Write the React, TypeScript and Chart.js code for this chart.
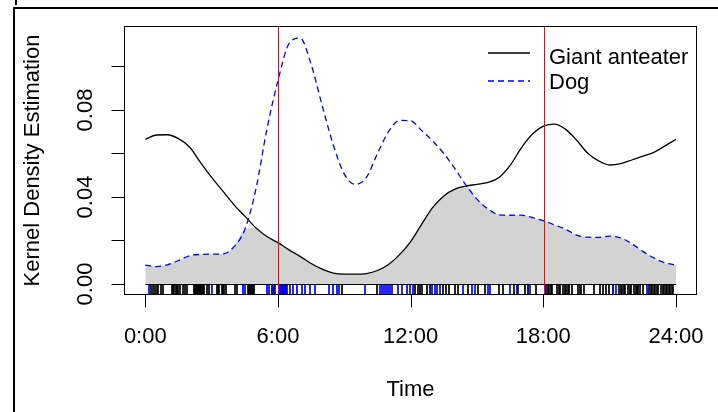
import React, { useEffect, useRef } from "react";
import { Chart, registerables } from "chart.js";

Chart.register(...registerables);

// ---- data ----
const hours = [
  0, 0.5, 1, 1.5, 2, 2.5, 3, 3.5, 4, 4.5, 5, 5.5, 6, 6.5, 7, 7.5, 8, 8.5, 9, 9.5,
  10, 10.5, 11, 11.5, 12, 12.5, 13, 13.5, 14, 14.5, 15, 15.5, 16, 16.5, 17, 17.5,
  18, 18.5, 19, 19.5, 20, 20.5, 21, 21.5, 22, 22.5, 23, 23.5, 24,
];

const anteater = [
  0.0665, 0.0685, 0.0686, 0.0668, 0.063, 0.0558, 0.049, 0.0428, 0.0365, 0.0312,
  0.0258, 0.0218, 0.019, 0.0157, 0.0127, 0.0094, 0.0068, 0.005, 0.0045, 0.0045,
  0.0048, 0.0062, 0.009, 0.0135, 0.0195, 0.0275, 0.0352, 0.0405, 0.0436, 0.045,
  0.0458, 0.0467, 0.049, 0.0545, 0.0625, 0.0688, 0.0726, 0.0735, 0.0712, 0.0662,
  0.0602, 0.0566, 0.0547, 0.0553, 0.057, 0.0588, 0.0605, 0.0635, 0.0665,
];

const dog = [
  0.0087, 0.008, 0.0088, 0.0108, 0.013, 0.0136, 0.0137, 0.0138, 0.017, 0.025,
  0.0435, 0.0712, 0.0935, 0.1105, 0.113, 0.101, 0.082, 0.064, 0.0505, 0.0458,
  0.049, 0.06, 0.07, 0.0752, 0.075, 0.0705, 0.0657, 0.06, 0.053, 0.0455,
  0.039, 0.0345, 0.0318, 0.0316, 0.0317, 0.0305, 0.0291, 0.0272, 0.0252, 0.0225,
  0.0215, 0.0214, 0.022, 0.0212, 0.0185, 0.015, 0.012, 0.0097, 0.0087,
];

const anteaterRug = [
  0.26, 0.35, 0.44, 0.51, 0.58, 0.72, 0.8, 1.21, 1.25, 1.3, 1.39, 1.43, 1.48,
  1.57, 1.71, 1.8, 1.89, 2.2, 2.24, 2.29, 2.33, 2.38, 2.42, 2.47, 2.51, 2.56,
  2.6, 2.65, 2.79, 2.88, 3.24, 3.28, 3.33, 3.47, 3.51, 3.56, 3.65, 4.06, 4.15,
  4.64, 4.69, 4.73, 4.78, 4.82, 4.87, 4.91, 5.73, 5.82, 8.9, 10.48, 12.2, 12.34,
  12.43, 12.52, 12.74, 12.88, 13.46, 13.6, 13.74, 14.01, 14.15, 14.6, 15.05,
  15.36, 16.0, 16.18, 16.67, 16.81, 17.17, 17.31, 17.67, 18.12, 18.19, 18.26,
  18.33, 18.4, 18.62, 18.69, 18.76, 18.89, 18.96, 19.03, 19.1, 19.17, 19.3,
  19.57, 19.64, 19.71, 19.84, 20.3, 20.57, 20.7, 20.84, 20.98, 21.16, 21.43,
  21.5, 21.56, 21.63, 21.7, 21.83, 21.9, 21.97, 22.1, 22.17, 22.24, 22.3, 22.37,
  22.51, 22.78, 22.85, 22.92, 22.99, 23.05, 23.12, 23.19, 23.33, 23.4, 23.46,
  23.53, 23.6, 23.67, 23.73, 23.8, 23.87,
];

const dogRug = [
  0.17, 3.02, 4.42, 4.51, 5.5, 5.59, 5.73, 5.86, 6.05, 6.09, 6.14, 6.18, 6.23,
  6.27, 6.32, 6.36, 6.41, 6.55, 6.68, 6.86, 7.09, 7.22, 7.45, 7.67, 8.31, 8.49,
  8.67, 8.76, 9.94, 10.62, 10.71, 10.8, 10.89, 10.98, 11.07, 11.16, 11.43, 11.61,
  11.84, 11.97, 12.11, 12.97, 13.11, 13.19, 13.33, 14.37, 14.78, 14.91, 15.5,
  15.59, 16.49, 16.86, 17.4, 18.08, 21.15, 21.29, 22.69,
];

const seriesNames = ["Giant anteater", "Dog"];
const xTicks = [0, 6, 12, 18, 24];
const xTickLabels = ["0:00", "6:00", "12:00", "18:00", "24:00"];
const yTicks = [0, 0.02, 0.04, 0.06, 0.08, 0.1];
const yTickLabels = ["0.00", "", "0.04", "", "0.08", ""];
const refLines = [6, 18];
const xTitle = "Time";
const yTitle = "Kernel Density Estimation";

// overlap of the two densities (shaded area)
const overlap = hours.map((_, i) => Math.min(anteater[i], dog[i]));

const FONT = "22px 'Liberation Sans', Arial, sans-serif";

const rPlugin = {
  id: "rstyle",
  afterDatasetsDraw(chart: any) {
    const { ctx, scales } = chart;
    const x = scales.x;
    const y = scales.y;
    const y0 = y.getPixelForValue(0);
    const bottom = Math.round(chart.chartArea.bottom);
    ctx.save();
    ctx.lineWidth = 1.7;
    const rug = (vals: number[], color: string) => {
      ctx.strokeStyle = color;
      ctx.beginPath();
      for (const v of vals) {
        const px = Math.round(x.getPixelForValue(v));
        ctx.moveTo(px, bottom);
        ctx.lineTo(px, y0);
      }
      ctx.stroke();
    };
    rug(anteaterRug, "#000000");
    rug(dogRug, "#0000ff");
    // top edge of the rug band
    ctx.lineWidth = 1;
    ctx.strokeStyle = "#000000";
    ctx.beginPath();
    const py0 = Math.round(y0) + 0.5;
    ctx.moveTo(x.getPixelForValue(hours[0]), py0);
    ctx.lineTo(x.getPixelForValue(hours[hours.length - 1]), py0);
    ctx.stroke();
    ctx.restore();
  },
  afterDraw(chart: any) {
    const { ctx, chartArea: a, scales } = chart;
    const x = scales.x;
    const y = scales.y;
    ctx.save();
    // outer frame
    ctx.fillStyle = "#000";
    ctx.fillRect(13, 7, chart.width - 13, 2);
    ctx.fillRect(13, 7, 2, chart.height - 7);
    ctx.fillRect(15, 0, 2, 5);

    // reference lines
    ctx.fillStyle = "rgb(255,0,0)";
    for (const v of refLines) {
      const px = Math.round(x.getPixelForValue(v) + 0.4);
      ctx.fillRect(px, a.top, 1, a.bottom - a.top);
    }

    // plot box
    ctx.strokeStyle = "#000";
    ctx.lineWidth = 1;
    const L = Math.round(a.left) + 0.5;
    const R = Math.round(a.right) - 0.5;
    const T = Math.round(a.top) + 0.5;
    const B = Math.round(a.bottom) - 0.5;
    ctx.strokeRect(L, T, R - L, B - T);

    // ticks
    ctx.beginPath();
    xTicks.forEach((v) => {
      const px = Math.round(x.getPixelForValue(v)) + 0.5;
      ctx.moveTo(px, B);
      ctx.lineTo(px, B + 13);
    });
    yTicks.forEach((v) => {
      const py = Math.round(y.getPixelForValue(v)) + 0.5;
      ctx.moveTo(L, py);
      ctx.lineTo(L - 13, py);
    });
    ctx.stroke();

    ctx.fillStyle = "#000";
    ctx.font = FONT;
    ctx.textBaseline = "alphabetic";
    ctx.textAlign = "center";
    xTicks.forEach((v, i) => {
      ctx.fillText(xTickLabels[i], x.getPixelForValue(v), a.bottom + 48);
    });
    ctx.fillText(xTitle, (a.left + a.right) / 2, a.bottom + 101);

    yTicks.forEach((v, i) => {
      if (!yTickLabels[i]) return;
      ctx.save();
      ctx.translate(a.left - 32, y.getPixelForValue(v));
      ctx.rotate(-Math.PI / 2);
      ctx.fillText(yTickLabels[i], 0, 0);
      ctx.restore();
    });
    ctx.save();
    ctx.translate(a.left - 85, (a.top + a.bottom) / 2);
    ctx.rotate(-Math.PI / 2);
    ctx.fillText(yTitle, 0, 0);
    ctx.restore();

    // legend
    const lx0 = a.left + 364;
    const lx1 = a.left + 406;
    const tx = a.left + 425;
    const rows = [a.top + 27, a.top + 55];
    ctx.lineWidth = 1.3;
    ctx.strokeStyle = "#000";
    ctx.setLineDash([]);
    ctx.beginPath();
    ctx.moveTo(lx0, rows[0]);
    ctx.lineTo(lx1, rows[0]);
    ctx.stroke();
    ctx.strokeStyle = "#0000ff";
    ctx.setLineDash([6, 4]);
    ctx.beginPath();
    ctx.moveTo(lx0, rows[1]);
    ctx.lineTo(lx1, rows[1]);
    ctx.stroke();
    ctx.setLineDash([]);
    ctx.textAlign = "left";
    ctx.fillText(seriesNames[0], tx, rows[0] + 10.5);
    ctx.fillText(seriesNames[1], tx, rows[1] + 8);
    ctx.restore();
  },
};

export default function App() {
  const ref = useRef<HTMLCanvasElement | null>(null);
  useEffect(() => {
    if (!ref.current) return;
    const chart = new Chart(ref.current, {
      type: "line",
      data: {
        datasets: [
          {
            label: seriesNames[0],
            data: hours.map((h, i) => ({ x: h, y: anteater[i] })),
            borderColor: "#000000",
            borderWidth: 1.3,
            pointRadius: 0,
            fill: false,
            cubicInterpolationMode: "monotone",
          },
          {
            label: seriesNames[1],
            data: hours.map((h, i) => ({ x: h, y: dog[i] })),
            borderColor: "#0000ff",
            borderWidth: 1.3,
            borderDash: [6, 4],
            pointRadius: 0,
            fill: false,
            cubicInterpolationMode: "monotone",
          },
          {
            label: "overlap",
            data: hours.map((h, i) => ({ x: h, y: overlap[i] })),
            borderWidth: 0,
            borderColor: "rgba(0,0,0,0)",
            backgroundColor: "#d3d3d3",
            pointRadius: 0,
            fill: "origin",
            cubicInterpolationMode: "monotone",
          },
        ],
      },
      options: {
        animation: false,
        responsive: false,
        events: [],
        layout: { padding: { left: 124, top: 26, right: 21, bottom: 117 } },
        plugins: { legend: { display: false }, tooltip: { enabled: false } },
        scales: {
          x: { type: "linear", display: false, min: -0.963, max: 24.95 },
          y: { type: "linear", display: false, min: -0.00506, max: 0.1186 },
        },
      },
      plugins: [rPlugin],
    });
    return () => chart.destroy();
  }, []);
  return (
    <div style={{ position: "absolute", left: 0, top: 0, width: 718, height: 412, background: "#fff" }}>
      <canvas ref={ref} width={718} height={412} style={{ display: "block" }} />
    </div>
  );
}
